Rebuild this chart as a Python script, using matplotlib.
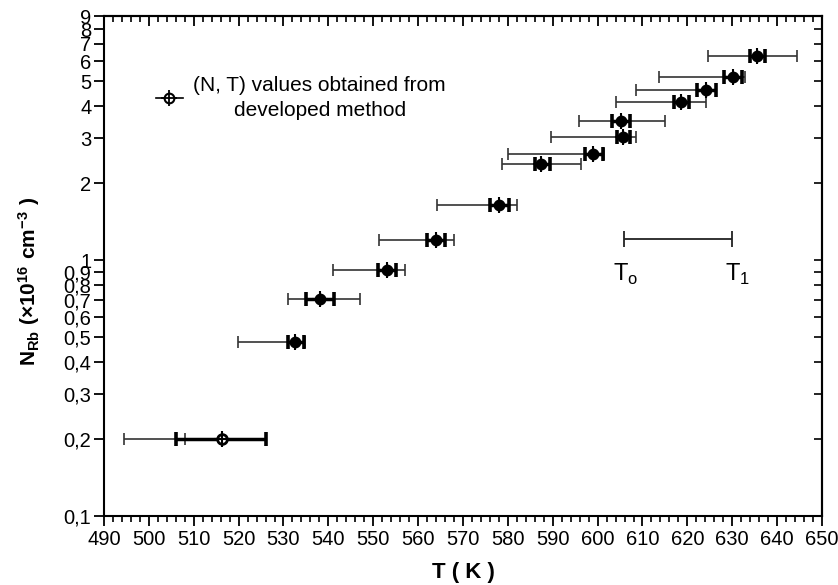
import numpy as np
import matplotlib
matplotlib.use("Agg")
import matplotlib.pyplot as plt
from matplotlib.lines import Line2D
from matplotlib.ticker import FixedLocator, FixedFormatter, MultipleLocator, NullFormatter

plt.rcParams['font.family'] = ['Liberation Sans', 'DejaVu Sans']
plt.rcParams['mathtext.fontset'] = 'custom'
plt.rcParams['mathtext.rm'] = 'Liberation Sans'
plt.rcParams['mathtext.bf'] = 'Liberation Sans:bold'

# (N, T) values
T = [516.2, 532.5, 538.1, 553.0, 563.9, 578.0, 587.3, 599.0, 605.6, 605.1, 618.6, 624.1, 630.2, 635.6]
N = [0.20, 0.477, 0.704, 0.914, 1.20, 1.64, 2.37, 2.59, 3.03, 3.50, 4.15, 4.61, 5.20, 6.28]
# thick bars: uncertainty of T
thick_lo = [506.0, 530.9, 535.0, 551.1, 562.0, 576.0, 586.0, 597.2, 604.3, 603.1, 617.1, 622.2, 628.2, 634.0]
thick_hi = [526.0, 534.6, 541.2, 555.0, 566.1, 580.3, 589.3, 601.2, 607.2, 607.2, 620.3, 626.3, 632.2, 637.3]
# thin bars: T0 .. T1 range
thin_lo = [494.5, 519.9, 530.9, 541.1, 551.3, 564.1, 578.6, 580.0, 589.6, 595.9, 604.1, 608.5, 613.6, 624.6]
thin_hi = [508.0, 534.9, 547.0, 557.0, 567.9, 582.0, 596.4, 601.5, 608.5, 615.1, 624.2, 626.3, 632.9, 644.5]

# example bar T0 - T1
ex_T0, ex_T1, ex_N = 605.9, 630.0, 1.21

yticks = [0.1, 0.2, 0.3, 0.4, 0.5, 0.6, 0.7, 0.8, 0.9, 1, 2, 3, 4, 5, 6, 7, 8, 9]
ylabels = ['0,1', '0,2', '0,3', '0,4', '0,5', '0,6', '0,7', '0,8', '0,9',
           '1', '2', '3', '4', '5', '6', '7', '8', '9']

fig = plt.figure(figsize=(8.38, 5.85), dpi=100)
ax = fig.add_axes([0.1241, 0.1179, 0.8568, 0.8547])
ax.set_yscale('log')
ax.set_xlim(490, 650)
ax.set_ylim(0.1, 9)

# thin bars
ax.hlines(N, thin_lo, thin_hi, color='#333333', lw=1.2, zorder=2)
ax.plot(thin_lo, N, ls='none', marker='|', ms=8, mew=1.2, color='#333333', zorder=2)
ax.plot(thin_hi, N, ls='none', marker='|', ms=8, mew=1.2, color='#333333', zorder=2)
# thick bars
ax.hlines(N, thick_lo, thick_hi, color='k', lw=2.5, zorder=3)
ax.plot(thick_lo, N, ls='none', marker='|', ms=10, mew=2.6, color='k', zorder=3)
ax.plot(thick_hi, N, ls='none', marker='|', ms=10, mew=2.6, color='k', zorder=3)
# markers: first one open, others filled
ax.plot(T[:1], N[:1], ls='none', marker='o', ms=7, mfc='white', mec='k', mew=2, zorder=4)
ax.plot(T[1:], N[1:], ls='none', marker='o', ms=7, mfc='k', mec='k', mew=1.5, zorder=4)
ax.plot(T, N, ls='none', marker='+', ms=11, mew=1.5, color='k', zorder=5)

# T0 - T1 example
ax.hlines(ex_N, ex_T0, ex_T1, color='#222222', lw=1.3)
ax.plot([ex_T0, ex_T1], [ex_N, ex_N], ls='none', marker='|', ms=12, mew=1.3, color='#222222')
ax.text(ex_T0 + 0.3, 0.88, r'T$_\mathrm{o}$', fontsize=17, ha='center', va='center')
ax.text(ex_T1 + 1.2, 0.88, r'T$_\mathrm{1}$', fontsize=17, ha='center', va='center')

# legend
h_circ = Line2D([], [], ls='-', lw=1.2, marker='o', ms=7, mfc='white', mec='k', mew=1.5, color='k')
h_plus = Line2D([], [], ls='none', marker='+', ms=11, mew=1.3, color='k')
leg = ax.legend([(h_circ, h_plus)], ['(N, T) values obtained from\ndeveloped method'],
                loc='upper left', bbox_to_anchor=(0.046, 0.918), frameon=False,
                fontsize=15, handlelength=1.3, handletextpad=0.5)
for t in leg.get_texts():
    t.set_multialignment('center')
    t.set_linespacing(1.4)

# ticks
ax.yaxis.set_major_locator(FixedLocator(yticks))
ax.yaxis.set_major_formatter(FixedFormatter(ylabels))
ax.yaxis.set_minor_locator(FixedLocator([]))
ax.yaxis.set_minor_formatter(NullFormatter())
ax.xaxis.set_major_locator(MultipleLocator(10))
ax.xaxis.set_minor_locator(MultipleLocator(2))
ax.tick_params(axis='both', which='major', direction='out', length=7, width=1.3, labelsize=14.5)
ax.tick_params(axis='x', which='minor', direction='out', length=4, width=1.2)
ax.tick_params(axis='y', which='major', pad=2)
ax.tick_params(axis='x', which='major', pad=3)

top = ax.secondary_xaxis('top')
top.xaxis.set_major_locator(MultipleLocator(10))
top.xaxis.set_minor_locator(MultipleLocator(2))
top.tick_params(which='major', direction='in', length=7, width=1.3, labeltop=False)
top.tick_params(which='minor', direction='in', length=4, width=1.2)
right = ax.secondary_yaxis('right')
right.yaxis.set_major_locator(FixedLocator(yticks))
right.yaxis.set_minor_locator(FixedLocator([]))
right.tick_params(which='major', direction='in', length=6, width=1.2, labelright=False)

for s in ax.spines.values():
    s.set_linewidth(1.5)
top.spines['top'].set_linewidth(1.5)
right.spines['right'].set_linewidth(1.5)

ax.set_xlabel('T ( K )', fontsize=16, fontweight='bold')
ax.xaxis.set_label_coords(0.5, -0.092)
ax.set_ylabel(r'$\mathbf{N_{Rb}}$ $\mathbf{(\times10^{16}\ cm^{-3}\ )}$', fontsize=15)
ax.yaxis.set_label_coords(-0.086, 0.469)

fig.savefig('out.png', dpi=100)
